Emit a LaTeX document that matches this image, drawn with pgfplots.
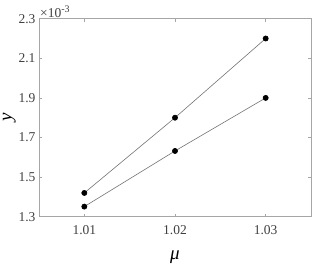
\documentclass[border=0pt]{standalone}
\usepackage{fontspec}
\setmainfont{Liberation Serif}
\usepackage{pgfplots}
\pgfplotsset{compat=1.18}
\begin{document}
\begin{tikzpicture}
\begin{axis}[name=ax,
  scale only axis, width=272pt, height=198pt,
  xmin=1.005, xmax=1.035, ymin=1.3, ymax=2.3,
  xtick={1.01,1.02,1.03}, ytick={1.3,1.5,1.7,1.9,2.1,2.3},
  xticklabel style={/pgf/number format/fixed, /pgf/number format/fixed zerofill, /pgf/number format/precision=2, yshift=-5pt},
  yticklabel style={/pgf/number format/fixed, /pgf/number format/fixed zerofill, /pgf/number format/precision=1},
  tick align=inside, major tick length=3pt,
  axis line style={draw=black!35, line width=0.6pt},
  every tick/.style={black!35, line width=0.6pt},
  tick label style={font=\fontsize{13.5}{13.5}\selectfont, text=black!75},
  xlabel={\fontsize{19}{19}\selectfont\textit{μ}},
  ylabel={\fontsize{19}{19}\selectfont\textit{y}},
  xlabel style={at={(axis description cs:0.5,0)}, anchor=center, yshift=-40pt},
  ylabel style={yshift=-4pt},
  /pgf/number format/assume math mode=true,
  clip=false,
]
\addplot[black!55, line width=0.6pt, mark=*, mark size=2.6pt, mark options={black, fill=black}] coordinates {(1.01,1.42) (1.02,1.80) (1.03,2.20)};
\addplot[black!55, line width=0.6pt, mark=*, mark size=2.6pt, mark options={black, fill=black}] coordinates {(1.01,1.351) (1.02,1.632) (1.03,1.90)};
\node[anchor=south west, inner sep=1pt, font=\fontsize{13.5}{13.5}\selectfont, text=black!75] at (rel axis cs:0,1) {×10\raisebox{0.8ex}{\fontsize{10}{10}\selectfont -3}};
\end{axis}
\pgfresetboundingbox
\path ([shift={(-39pt,-48.3pt)}]ax.south west) rectangle ([shift={(1pt,18.7pt)}]ax.north east);
\end{tikzpicture}
\end{document}
